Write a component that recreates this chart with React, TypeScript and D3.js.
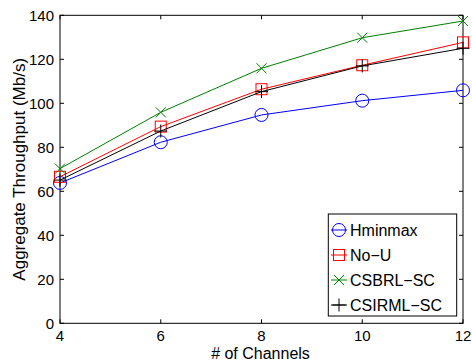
import React from "react";
import * as d3 from "d3";

const channels = [4, 6, 8, 10, 12];
const hminmax = [63.8, 82.3, 94.7, 101.2, 105.9];
const noU = [66.6, 89.4, 106.4, 117.3, 127.7];
const csbrl = [70.3, 95.9, 115.9, 129.8, 137.4];
const csirml = [65.1, 87.4, 105.3, 117.0, 125.0];
const yTicks = [0, 20, 40, 60, 80, 100, 120, 140];
const xTicks = [4, 6, 8, 10, 12];

const series = [
  { name: "Hminmax", values: hminmax, color: "#0000ff", marker: "circle" },
  { name: "No\u2212U", values: noU, color: "#ff0000", marker: "square" },
  { name: "CSBRL\u2212SC", values: csbrl, color: "#008000", marker: "x" },
  { name: "CSIRML\u2212SC", values: csirml, color: "#000000", marker: "plus" },
];

const W = 472, H = 362;
const L = 60, R = 463, T = 15.3, B = 323.3;
const font = "Liberation Sans, Arial, Helvetica, sans-serif";

function Marker({ type, x, y, color }: { type: string; x: number; y: number; color: string }) {
  if (type === "circle") return <circle cx={x} cy={y} r={6.5} fill="none" stroke={color} strokeWidth={1} />;
  if (type === "square") return <rect x={x - 5.5} y={y - 5.5} width={11} height={11} fill="none" stroke={color} strokeWidth={1} />;
  if (type === "x") return <path d={`M${x - 5},${y - 5}L${x + 5},${y + 5}M${x - 5},${y + 5}L${x + 5},${y - 5}`} stroke={color} strokeWidth={1} />;
  return <path d={`M${x - 6.5},${y}L${x + 6.5},${y}M${x},${y - 6.5}L${x},${y + 6.5}`} stroke={color} strokeWidth={1} />;
}

export default function App() {
  const x = d3.scaleLinear().domain([4, 12]).range([L, R]);
  const y = d3.scaleLinear().domain([0, 140]).range([B, T]);
  const line = d3.line<number>().x((_, i) => x(channels[i])).y((d) => y(d));
  const legX = 328.3, legY = 214, legW = 128.4, legH = 102;
  return (
    <svg width={W} height={H} style={{ position: "absolute", left: 0, top: 0 }} fontFamily={font}>
      <rect x={0} y={0} width={W} height={H} fill="#fff" />
      <rect x={L} y={T} width={R - L} height={B - T} fill="#fff" stroke="#000" strokeWidth={1} />
      {xTicks.map((t) => (
        <g key={"x" + t}>
          <line x1={x(t)} x2={x(t)} y1={B} y2={B - 4} stroke="#000" />
          <line x1={x(t)} x2={x(t)} y1={T} y2={T + 4} stroke="#000" />
          <text x={x(t)} y={341} fontSize={15} textAnchor="middle">{t}</text>
        </g>
      ))}
      {yTicks.map((t) => (
        <g key={"y" + t}>
          <line x1={L} x2={L + 4} y1={y(t)} y2={y(t)} stroke="#000" />
          <line x1={R} x2={R - 4} y1={y(t)} y2={y(t)} stroke="#000" />
          <text x={54} y={y(t) + 5.5} fontSize={15} textAnchor="end">{t}</text>
        </g>
      ))}
      <text x={260.5} y={359} fontSize={16} textAnchor="middle">
        # of Channels
      </text>
      <text transform={`translate(25,${(T + B) / 2}) rotate(-90)`} fontSize={17} textAnchor="middle">
        Aggregate Throughput (Mb/s)
      </text>
      {series.map((s) => (
        <g key={s.name}>
          <path d={line(s.values) || ""} fill="none" stroke={s.color} strokeWidth={1} />
          {s.values.map((v, i) => (
            <Marker key={i} type={s.marker} x={x(channels[i])} y={y(v)} color={s.color} />
          ))}
        </g>
      ))}
      <rect x={legX} y={legY} width={legW} height={legH} fill="#fff" stroke="#000" strokeWidth={1} />
      {series.map((s, i) => {
        const cy = 230 + i * 25;
        return (
          <g key={"leg" + s.name}>
            <line x1={331} x2={347} y1={cy} y2={cy} stroke={s.color} />
            <Marker type={s.marker} x={339} y={cy} color={s.color} />
            <text x={350} y={cy + 6} fontSize={16}>{s.name}</text>
          </g>
        );
      })}
    </svg>
  );
}
